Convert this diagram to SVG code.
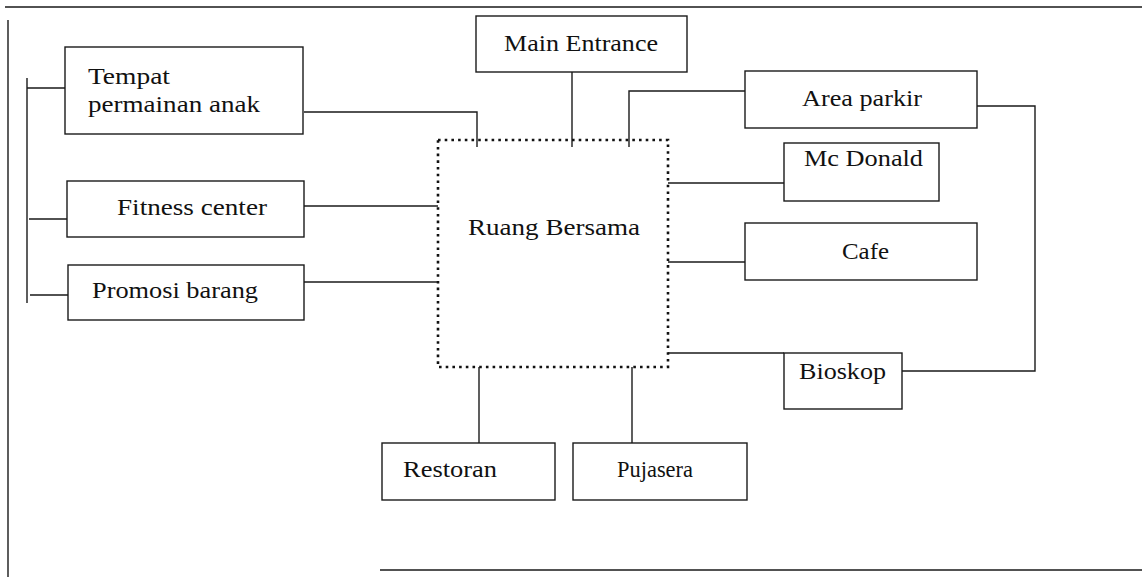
<svg xmlns="http://www.w3.org/2000/svg" width="1142" height="577" viewBox="0 0 1142 577">
<style>
.box{fill:#fff;stroke:#1a1a1a;stroke-width:1.4}
.ln{fill:none;stroke:#1a1a1a;stroke-width:1.4}
.dot{fill:none;stroke:#111;stroke-width:2.6;stroke-dasharray:2.6 4.1}
text{font-family:"Liberation Serif","Times New Roman",serif;font-size:24px;fill:#111}
</style>
<rect width="1142" height="577" fill="#fff"/>
<g id="frame">
<path class="ln" d="M5 7 H1142 M8 20 V577 M380 570 H1142"/>
</g>
<g id="connectors">
<path class="ln" d="M27 78 V303 M27 88 H66 M29 219 H67 M30 295 H68"/>
<path class="ln" d="M304 112 H477 V147"/>
<path class="ln" d="M304 206 H438"/>
<path class="ln" d="M304 282 H438"/>
<path class="ln" d="M572 72 V147"/>
<path class="ln" d="M745 91 H629 V147"/>
<path class="ln" d="M668 183 H784"/>
<path class="ln" d="M668 262 H745"/>
<path class="ln" d="M668 353 H784"/>
<path class="ln" d="M977 106 H1035 V371 H902"/>
<path class="ln" d="M479 367 V443"/>
<path class="ln" d="M632 367 V443"/>
</g>
<g id="ruang-bersama">
<rect class="dot" x="438" y="140" width="230" height="227"/>
<text x="468" y="235" textLength="172" lengthAdjust="spacingAndGlyphs">Ruang  Bersama</text>
</g>
<g id="main-entrance">
<rect class="box" x="476" y="16" width="211" height="56"/>
<text x="504" y="51" textLength="154" lengthAdjust="spacingAndGlyphs">Main Entrance</text>
</g>
<g id="tempat-permainan">
<rect class="box" x="65" y="47" width="238" height="87"/>
<text x="88" y="84" textLength="82" lengthAdjust="spacingAndGlyphs">Tempat</text>
<text x="88" y="112" textLength="172" lengthAdjust="spacingAndGlyphs">permainan anak</text>
</g>
<g id="fitness-center">
<rect class="box" x="67" y="181" width="237" height="56"/>
<text x="117" y="215" textLength="150" lengthAdjust="spacingAndGlyphs">Fitness center</text>
</g>
<g id="promosi-barang">
<rect class="box" x="68" y="265" width="236" height="55"/>
<text x="92" y="298" textLength="166" lengthAdjust="spacingAndGlyphs">Promosi barang</text>
</g>
<g id="area-parkir">
<rect class="box" x="745" y="71" width="232" height="57"/>
<text x="802" y="106" textLength="120" lengthAdjust="spacingAndGlyphs">Area parkir</text>
</g>
<g id="mc-donald">
<rect class="box" x="784" y="143" width="155" height="58"/>
<text x="804" y="166" textLength="119" lengthAdjust="spacingAndGlyphs">Mc Donald</text>
</g>
<g id="cafe">
<rect class="box" x="745" y="223" width="232" height="57"/>
<text x="842" y="259" textLength="47" lengthAdjust="spacingAndGlyphs">Cafe</text>
</g>
<g id="bioskop">
<rect class="box" x="784" y="353" width="118" height="56"/>
<text x="799" y="379" textLength="87" lengthAdjust="spacingAndGlyphs">Bioskop</text>
</g>
<g id="restoran">
<rect class="box" x="382" y="443" width="173" height="57"/>
<text x="403" y="477" textLength="94" lengthAdjust="spacingAndGlyphs">Restoran</text>
</g>
<g id="pujasera">
<rect class="box" x="573" y="443" width="174" height="57"/>
<text x="617" y="477" textLength="76" lengthAdjust="spacingAndGlyphs">Pujasera</text>
</g>
</svg>
